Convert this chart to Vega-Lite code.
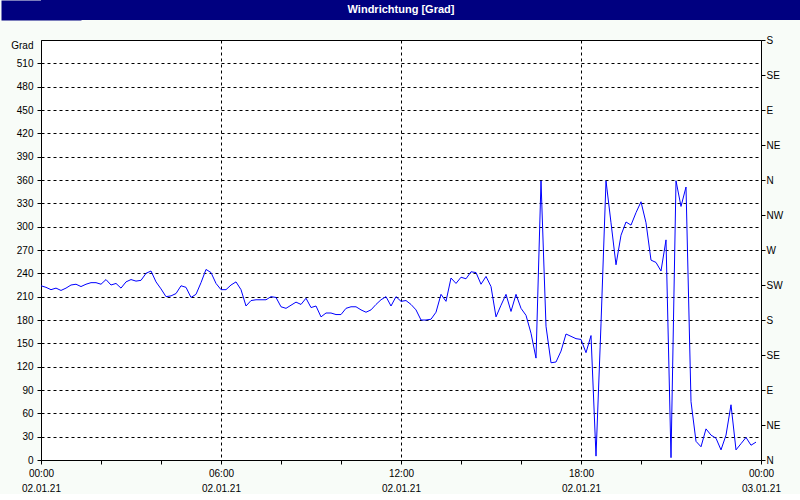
{
  "$schema": "https://vega.github.io/schema/vega-lite/v6.json",
  "background": "#f8fcf8",
  "padding": 0,
  "spacing": 14,
  "columns": 1,
  "config": {
    "font": "Liberation Sans Narrow, Liberation Sans, sans-serif",
    "axis": {"labelFont": "Liberation Sans Narrow, Liberation Sans, sans-serif", "labelFontSize": 10, "labelColor": "black", "domainColor": "black", "tickColor": "black"}
  },
  "concat": [
    {
      "width": 760,
      "height": 20,
      "view": {"fill": "#000080", "stroke": null},
      "data": {"values": [{"title": "Windrichtung [Grad]", "pos": 0.5}]},
      "mark": {"type": "text", "color": "white", "fontWeight": "bold", "fontSize": 11, "font": "Liberation Sans Narrow, Liberation Sans, sans-serif", "baseline": "middle", "align": "center", "dx": -20},
      "encoding": {
        "text": {"field": "title", "type": "nominal"},
        "y": {
          "field": "pos", "type": "quantitative",
          "scale": {"domain": [0, 1], "nice": false},
          "axis": {"title": null, "labels": false, "ticks": false, "grid": false, "domain": true, "domainColor": "#000080", "domainWidth": 80, "domainCap": "butt", "minExtent": 40, "maxExtent": 40}
        }
      }
    },
    {
      "width": 720,
      "height": 420,
      "view": {"fill": "white", "stroke": "black", "strokeWidth": 1},
      "data": {"values": [
        {"t":0,"grad":224},{"t":10,"grad":222},{"t":20,"grad":219},{"t":30,"grad":221},{"t":40,"grad":218},{"t":50,"grad":221},{"t":60,"grad":225},{"t":70,"grad":226},{"t":80,"grad":223},{"t":90,"grad":226},
        {"t":100,"grad":228},{"t":110,"grad":228},{"t":120,"grad":226},{"t":130,"grad":232},{"t":140,"grad":225},{"t":150,"grad":227},{"t":160,"grad":221},{"t":170,"grad":229},{"t":180,"grad":232},{"t":190,"grad":230},
        {"t":200,"grad":231},{"t":210,"grad":240},{"t":220,"grad":243},{"t":230,"grad":229},{"t":240,"grad":220},{"t":250,"grad":210},{"t":260,"grad":211},{"t":270,"grad":214},{"t":280,"grad":224},{"t":290,"grad":222},
        {"t":300,"grad":209},{"t":310,"grad":213},{"t":320,"grad":228},{"t":330,"grad":245},{"t":340,"grad":241},{"t":350,"grad":227},{"t":360,"grad":219},{"t":370,"grad":219},{"t":380,"grad":225},{"t":390,"grad":229},
        {"t":400,"grad":219},{"t":410,"grad":198},{"t":420,"grad":205},{"t":430,"grad":206},{"t":440,"grad":206},{"t":450,"grad":206},{"t":460,"grad":210},{"t":470,"grad":209},{"t":480,"grad":197},{"t":490,"grad":195},
        {"t":500,"grad":199},{"t":510,"grad":203},{"t":520,"grad":200},{"t":530,"grad":208},{"t":540,"grad":196},{"t":550,"grad":198},{"t":560,"grad":184},{"t":570,"grad":189},{"t":580,"grad":189},{"t":590,"grad":187},
        {"t":600,"grad":187},{"t":610,"grad":195},{"t":620,"grad":197},{"t":630,"grad":197},{"t":640,"grad":193},{"t":650,"grad":190},{"t":660,"grad":193},{"t":670,"grad":200},{"t":680,"grad":206},{"t":690,"grad":210},
        {"t":700,"grad":198},{"t":710,"grad":210},{"t":720,"grad":204},{"t":730,"grad":205},{"t":740,"grad":200},{"t":750,"grad":193},{"t":760,"grad":180},{"t":770,"grad":180},{"t":780,"grad":181},{"t":790,"grad":190},
        {"t":800,"grad":213},{"t":810,"grad":204},{"t":820,"grad":234},{"t":830,"grad":227},{"t":840,"grad":235},{"t":850,"grad":233},{"t":860,"grad":242},{"t":870,"grad":241},{"t":880,"grad":226},{"t":890,"grad":236},
        {"t":900,"grad":223},{"t":910,"grad":184},{"t":920,"grad":199},{"t":930,"grad":213},{"t":940,"grad":191},{"t":950,"grad":213},{"t":960,"grad":195},{"t":970,"grad":186},{"t":980,"grad":163},{"t":990,"grad":131},
        {"t":1000,"grad":359},{"t":1010,"grad":172},{"t":1020,"grad":125},{"t":1030,"grad":126},{"t":1040,"grad":140},{"t":1050,"grad":162},{"t":1060,"grad":159},{"t":1070,"grad":156},{"t":1080,"grad":155},{"t":1090,"grad":138},
        {"t":1100,"grad":160},{"t":1110,"grad":5},{"t":1120,"grad":175},{"t":1130,"grad":359},{"t":1140,"grad":305},{"t":1150,"grad":251},{"t":1160,"grad":289},{"t":1170,"grad":306},{"t":1180,"grad":302},{"t":1190,"grad":318},
        {"t":1200,"grad":332},{"t":1210,"grad":305},{"t":1220,"grad":257},{"t":1230,"grad":254},{"t":1240,"grad":243},{"t":1250,"grad":283},{"t":1260,"grad":3},{"t":1270,"grad":359},{"t":1280,"grad":326},{"t":1290,"grad":351},
        {"t":1300,"grad":75},{"t":1310,"grad":24},{"t":1320,"grad":17},{"t":1330,"grad":40},{"t":1340,"grad":32},{"t":1350,"grad":28},{"t":1360,"grad":13},{"t":1370,"grad":32},{"t":1380,"grad":71},{"t":1390,"grad":13},
        {"t":1400,"grad":21},{"t":1410,"grad":29},{"t":1420,"grad":19},{"t":1430,"grad":23}
      ]},
      "layer": [
        {
          "mark": {"type": "line", "color": "#0000ff", "strokeWidth": 1, "interpolate": "linear"},
          "encoding": {
            "x": {
              "field": "t", "type": "quantitative",
              "scale": {"domain": [0, 1440], "nice": false, "zero": false},
              "axis": {
                "title": null,
                "values": [0,60,120,180,240,300,360,420,480,540,600,660,720,780,840,900,960,1020,1080,1140,1200,1260,1320,1380,1440],
                "labelExpr": "datum.value % 180 == 0 ? [(floor(datum.value/60) % 24 < 10 ? '0' : '') + (floor(datum.value/60) % 24) + ':00', datum.value == 1440 ? '03.01.21' : '02.01.21'] : ''",
                "labelFlush": false,
                "labelOverlap": false,
                "labelBound": false,
                "labelBaseline": "top",
                "labelLineHeight": 15,
                "labelPadding": 4,
                "tickSize": 4,
                "grid": true,
                "gridColor": "black",
                "gridDash": [3, 3],
                "gridOpacity": {"condition": {"test": "datum.value % 180 == 0 && datum.value > 0 && datum.value < 1440", "value": 1}, "value": 0}
              }
            },
            "y": {
              "field": "grad", "type": "quantitative",
              "scale": {"domain": [0, 540], "nice": false, "zero": false},
              "axis": {
                "title": null,
                "orient": "left",
                "values": [0,30,60,90,120,150,180,210,240,270,300,330,360,390,420,450,480,510,540],
                "labelExpr": "datum.value == 540 ? 'Grad' : datum.label",
                "labelBaseline": {"condition": {"test": "datum.value == 540", "value": "top"}, "value": "middle"},
                "labelFlush": false,
                "labelOverlap": false,
                "labelPadding": 4,
                "tickSize": 4,
                "tickOpacity": {"condition": {"test": "datum.value == 540", "value": 0}, "value": 1},
                "minExtent": 40,
                "maxExtent": 40,
                "grid": true,
                "gridColor": "black",
                "gridDash": [3, 3],
                "gridOpacity": {"condition": {"test": "datum.value > 0 && datum.value < 540", "value": 1}, "value": 0}
              }
            }
          }
        },
        {
          "mark": {"type": "line", "opacity": 0},
          "encoding": {
            "x": {"field": "t", "type": "quantitative"},
            "y": {
              "field": "grad", "type": "quantitative",
              "axis": {
                "title": null,
                "orient": "right",
                "values": [0,45,90,135,180,225,270,315,360,405,450,495,540],
                "labelExpr": "['N','NE','E','SE','S','SW','W','NW'][round(datum.value/45) % 8]",
                "labelFlush": false,
                "labelOverlap": false,
                "labelPadding": 1,
                "tickSize": 4,
                "grid": false
              }
            }
          }
        }
      ],
      "resolve": {"axis": {"y": "independent"}}
    }
  ]
}
